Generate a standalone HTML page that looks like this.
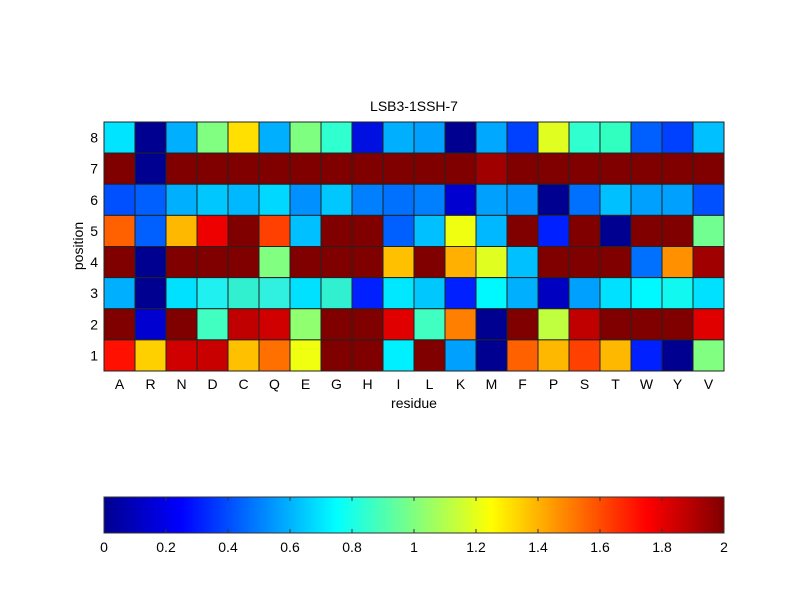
<!DOCTYPE html>
<html><head><meta charset="utf-8"><style>
body{margin:0;background:#fff;width:800px;height:600px;overflow:hidden}
svg text{font-family:"Liberation Sans",sans-serif;font-size:14px;fill:#000}
</style></head><body>
<svg width="800" height="600" xmlns="http://www.w3.org/2000/svg">
<defs>
<linearGradient id="jet" x1="0" x2="1" y1="0" y2="0">
<stop offset="0" stop-color="#00008f"/>
<stop offset="0.125" stop-color="#0000ff"/>
<stop offset="0.375" stop-color="#00ffff"/>
<stop offset="0.625" stop-color="#ffff00"/>
<stop offset="0.875" stop-color="#ff0000"/>
<stop offset="1" stop-color="#800000"/>
</linearGradient>
</defs>
<g id="cells" stroke="#222" stroke-width="1"></g>
<text x="414" y="111" text-anchor="middle">LSB3-1SSH-7</text>
<g id="yl" text-anchor="end"></g>
<g id="xl" text-anchor="middle"></g>
<text x="414" y="408" text-anchor="middle">residue</text>
<text transform="translate(83,246) rotate(-90)" text-anchor="middle">position</text>
<rect x="104" y="497" width="620" height="36" fill="url(#jet)" stroke="#333"/>
<g id="cb" text-anchor="middle"></g>
</svg>
<script>
var rows=[
["#00e4ff","#000090","#00b0ff","#80ff80","#ffe000","#00b0ff","#7fff7f","#30ffd0","#0010e0","#00b0ff","#00a0ff","#000090","#00a8ff","#0040ff","#e0ff20","#30ffd0","#30ffc0","#0060ff","#0040ff","#00c0ff"],
["#800000","#000090","#800000","#800000","#800000","#800000","#800000","#800000","#800000","#800000","#800000","#800000","#a00000","#800000","#800000","#800000","#800000","#800000","#800000","#800000"],
["#0050ff","#0060ff","#00b0ff","#00c8ff","#00b8ff","#00d8ff","#0090ff","#00c8ff","#0080ff","#0070ff","#0080ff","#0000d0","#00a0ff","#0090ff","#000090","#0070ff","#00c0ff","#00a0ff","#00a0ff","#0050ff"],
["#ff6000","#0060ff","#ffb800","#ee0000","#800000","#ff4000","#00c0ff","#800000","#800000","#0060ff","#00c0ff","#f0ff10","#00b8ff","#800000","#0020ff","#800000","#000090","#800000","#800000","#70ff90"],
["#800000","#000090","#800000","#800000","#800000","#80ff80","#800000","#800000","#800000","#ffc000","#800000","#ffb000","#e0ff20","#00c0ff","#800000","#800000","#800000","#0070ff","#ff9000","#a00000"],
["#00b0ff","#000090","#00e0ff","#20f0f0","#30f0d0","#30f0e0","#00e0ff","#30f0d0","#0020ff","#00e8ff","#00c8ff","#0020ff","#00f8ff","#00b0ff","#0000c0","#00a0ff","#00e0ff","#00f8ff","#10f8f0","#00e0ff"],
["#800000","#0000d0","#800000","#40ffc0","#c00000","#d00000","#90ff70","#800000","#800000","#e00000","#40ffc0","#ff8000","#000090","#800000","#c0ff40","#c00000","#800000","#800000","#800000","#e00000"],
["#ff1000","#ffd000","#d00000","#c80000","#ffc000","#ff7000","#f0ff10","#800000","#800000","#00f0ff","#800000","#00a0ff","#000090","#ff6000","#ffb800","#ff4000","#ffb800","#0020ff","#000090","#80ff80"]];
var L="ARNDCQEGHILKMFPSTWYV",ns="http://www.w3.org/2000/svg";
var g=document.getElementById("cells"),h=(371-122)/8;
function el(t,a,p,tx){var e=document.createElementNS(ns,t);for(var k in a)e.setAttribute(k,a[k]);if(tx!=null)e.textContent=tx;p.appendChild(e);}
rows.forEach(function(r,i){r.forEach(function(c,j){el("rect",{x:104+31*j,y:122+h*i,width:31,height:h,fill:c},g);});
el("text",{x:98,y:122+h*i+h/2+5},document.getElementById("yl"),String(8-i));});
for(var j=0;j<20;j++)el("text",{x:104+31*j+15.5,y:389},document.getElementById("xl"),L[j]);
var cb=document.getElementById("cb");
for(var k=0;k<=10;k++){var x=104+62*k;el("text",{x:x,y:552},cb,String(k===0?0:k===5?1:k===10?2:(k/5).toFixed(1)));
if(k>0&&k<10){el("line",{x1:x,x2:x,y1:497,y2:501,stroke:"#333"},cb);el("line",{x1:x,x2:x,y1:529,y2:533,stroke:"#333"},cb);}}
</script>
</body></html>
